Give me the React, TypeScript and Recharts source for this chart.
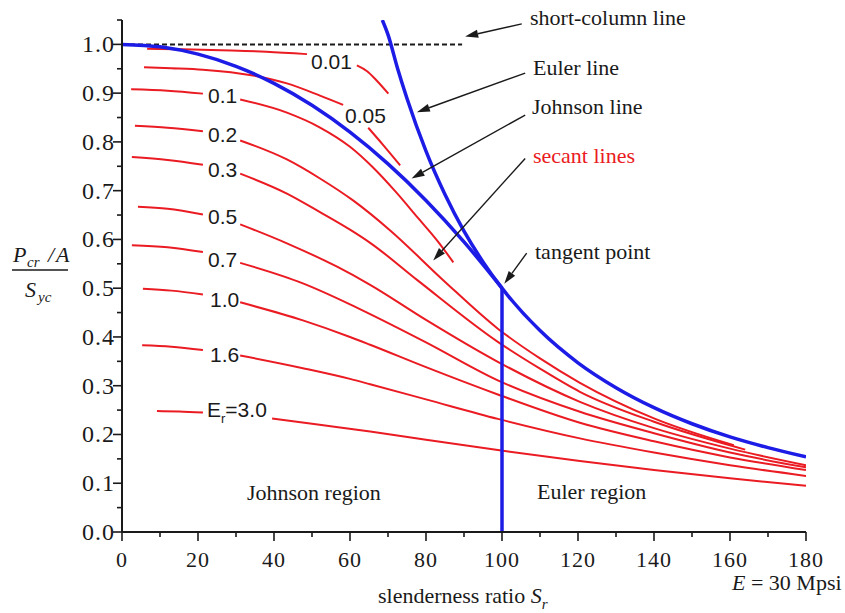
import React from "react";
import { Line, LineChart, ReferenceLine, XAxis, YAxis } from "recharts";

// secant curves as [Sr, (Pcr/A)/Syc]; null = gap where the tag sits
const secant001 = [[6.6, 0.991], [16, 0.99], [26, 0.988], [38, 0.985], [48.7, 0.98], [55, null], [61.8, 0.957], [64.5, 0.945], [67, 0.926], [70.1, 0.899]];
const secant005 = [[5.8, 0.953], [13, 0.951], [21.3, 0.948], [34.5, 0.936], [43.4, 0.92], [52.1, 0.895], [58.2, 0.876], [61.5, null], [64.8, 0.829], [68.8, 0.793], [73.2, 0.752]];
const secant01 = [[2.4, 0.908], [12, 0.905], [21.3, 0.899], [26, null], [31.1, 0.887], [43.4, 0.86], [52, 0.83], [60, 0.79], [66, 0.748], [72, 0.698], [78, 0.643], [83, 0.597], [87.2, 0.553]];
const secant02 = [[3.4, 0.833], [12, 0.829], [21.3, 0.822], [26, null], [31.1, 0.803], [43.4, 0.764], [52.1, 0.725], [60.8, 0.68], [70.5, 0.619], [84.6, 0.516], [98.9, 0.417], [110, 0.356], [120.5, 0.306], [140, 0.233], [161, 0.178]];
const secant03 = [[2.6, 0.769], [12, 0.763], [21.3, 0.753], [26, null], [31.1, 0.735], [43.4, 0.694], [52.1, 0.656], [60, 0.62], [65.3, 0.593], [77.8, 0.516], [98.9, 0.39], [110, 0.335], [120.5, 0.2875], [140, 0.226], [164, 0.169]];
const secant05 = [[4.2, 0.667], [12, 0.663], [21.3, 0.651], [26, null], [31.1, 0.631], [43.4, 0.592], [56.6, 0.544], [65.3, 0.507], [80, 0.435], [98.9, 0.349], [120.5, 0.267], [140, 0.213], [160, 0.171], [180, 0.137]];
const secant07 = [[2.6, 0.588], [12, 0.584], [21.3, 0.574], [26, null], [31.1, 0.552], [47.6, 0.51], [60, 0.467], [65.3, 0.447], [80, 0.389], [98.9, 0.311], [120.5, 0.2465], [140, 0.2025], [160, 0.163], [180, 0.1325]];
const secant10 = [[5.5, 0.499], [13, 0.495], [21.3, 0.487], [26, null], [31.1, 0.471], [47.6, 0.434], [60, 0.4], [65.3, 0.384], [80, 0.338], [98.9, 0.282], [120.5, 0.224], [140, 0.186], [160, 0.153], [180, 0.127]];
const secant16 = [[5.3, 0.383], [13, 0.38], [21.3, 0.373], [26, null], [31.1, 0.362], [47.6, 0.336], [60, 0.314], [65.3, 0.303], [80, 0.272], [98.9, 0.232], [120.5, 0.192], [140, 0.163], [160, 0.137], [180, 0.115]];
const secant30 = [[9.2, 0.248], [15, 0.247], [21.3, 0.245], [30, null], [39.5, 0.233], [52, 0.22], [65.3, 0.206], [80, 0.189], [98.9, 0.168], [120.5, 0.1455], [140, 0.127], [160, 0.11], [180, 0.095]];

const johnsonLine = [[0, 1.0], [10, 0.995], [20, 0.98], [30, 0.955], [40, 0.92], [50, 0.875], [60, 0.82], [70, 0.755], [80, 0.68], [90, 0.595], [100, 0.5]];
const eulerLine = [[68.5, 1.05], [70, 1.02], [72.5, 0.951], [75, 0.889], [80, 0.781], [85, 0.692], [90, 0.617], [95, 0.554], [100, 0.5], [110, 0.413], [120, 0.347], [130, 0.296], [140, 0.255], [150, 0.222], [160, 0.195], [170, 0.173], [180, 0.154]];

const xTicks = [0, 10, 20, 30, 40, 50, 60, 70, 80, 90, 100, 110, 120, 130, 140, 150, 160, 170, 180];
const yTicks = [0, 0.05, 0.1, 0.15, 0.2, 0.25, 0.3, 0.35, 0.4, 0.45, 0.5, 0.55, 0.6, 0.65, 0.7, 0.75, 0.8, 0.85, 0.9, 0.95, 1.0, 1.05];

const secantCurves = [secant001, secant005, secant01, secant02, secant03, secant05, secant07, secant10, secant16, secant30];
const curveTags = ["0.01", "0.05", "0.1", "0.2", "0.3", "0.5", "0.7", "1.0", "1.6"];

// annotation arrows: tail -> tip, in data units
const arrows = [
  { from: [105.2, 1.042], to: [90.3, 1.016] },
  { from: [106.1, 0.941], to: [77.6, 0.861] },
  { from: [106.1, 0.855], to: [76.2, 0.725] },
  { from: [106.1, 0.766], to: [81.9, 0.557] },
  { from: [106.5, 0.572], to: [100.6, 0.509] },
];

const RED = "#ea1b22";
const BLUE = "#1c1ce6";
const INK = "#1a1a1a";
const SERIF = '"Liberation Serif", "Times New Roman", serif';
const SANS = '"Liberation Sans", Arial, sans-serif';

const toRows = (pts: any[]) => pts.map(([x, y]) => ({ x, y }));

function XTick(props: any) {
  const { x, y, payload } = props;
  const major = payload.value % 20 === 0;
  return (
    <g>
      <line x1={x} x2={x} y1={y} y2={y + (major ? 9 : 5)} stroke={INK} strokeWidth={1.6} />
      {major && (
        <text x={x} y={y + 35} textAnchor="middle" fontFamily={SERIF} fontSize={22} letterSpacing={1} fill={INK}>
          {payload.value}
        </text>
      )}
    </g>
  );
}

function YTick(props: any) {
  const { x, y, payload } = props;
  const v = payload.value;
  const major = Math.abs(v * 10 - Math.round(v * 10)) < 1e-6;
  return (
    <g>
      <line x1={x - (major ? 9 : 5)} x2={x} y1={y} y2={y} stroke={INK} strokeWidth={1.6} />
      {major && (
        <text x={x - 7} y={y + 8} textAnchor="end" fontFamily={SERIF} fontSize={24} letterSpacing={1} fill={INK}>
          {v.toFixed(1)}
        </text>
      )}
    </g>
  );
}

function Arrow(props: any) {
  const { x1, y1, x2, y2 } = props;
  const a = Math.atan2(y2 - y1, x2 - x1);
  const len = 13;
  const half = 4;
  const bx = x2 - len * Math.cos(a);
  const by = y2 - len * Math.sin(a);
  const px = -Math.sin(a) * half;
  const py = Math.cos(a) * half;
  return (
    <g>
      <line x1={x1} y1={y1} x2={bx} y2={by} stroke={INK} strokeWidth={1.4} />
      <polygon points={`${x2},${y2} ${bx + px},${by + py} ${bx - px},${by - py}`} fill={INK} />
    </g>
  );
}

const tagPos = [
  [311, 68.5], [345, 122.5], [208, 103], [208, 141.7], [208, 176.7], [208, 224.3], [208, 266.7], [210, 306.7], [210, 361.7],
];

export default function App() {
  return (
    <div style={{ position: "absolute", left: 0, top: 0, width: 845, height: 613, background: "#fff" }}>
      <LineChart width={845} height={613} margin={{ top: 20, right: 39, bottom: 0, left: 0 }}>
        <XAxis
          type="number"
          dataKey="x"
          domain={[0, 180]}
          ticks={xTicks}
          interval={0}
          allowDataOverflow
          height={81}
          tickSize={0}
          tickMargin={0}
          tickLine={false}
          tick={<XTick />}
          axisLine={{ stroke: INK, strokeWidth: 2 }}
        />
        <YAxis
          type="number"
          domain={[0, 1.05]}
          ticks={yTicks}
          interval={0}
          allowDataOverflow
          width={122}
          tickSize={0}
          tickMargin={0}
          tickLine={false}
          tick={<YTick />}
          axisLine={{ stroke: INK, strokeWidth: 2 }}
        />
        {secantCurves.map((c, i) => (
          <Line key={i} data={toRows(c)} dataKey="y" type="monotone" stroke={RED} strokeWidth={2} dot={false} connectNulls={false} isAnimationActive={false} />
        ))}
        <ReferenceLine segment={[{ x: 0, y: 1 }, { x: 89.5, y: 1 }]} stroke={INK} strokeWidth={2} strokeDasharray="5 3" />
        <Line data={toRows(johnsonLine)} dataKey="y" type="monotone" stroke={BLUE} strokeWidth={3.5} dot={false} isAnimationActive={false} />
        <Line data={toRows(eulerLine)} dataKey="y" type="monotone" stroke={BLUE} strokeWidth={3.5} dot={false} isAnimationActive={false} />
        <ReferenceLine segment={[{ x: 100, y: 0 }, { x: 100, y: 0.5 }]} stroke={BLUE} strokeWidth={3.5} />
        {arrows.map((a, i) => (
          <ReferenceLine key={"a" + i} segment={[{ x: a.from[0], y: a.from[1] }, { x: a.to[0], y: a.to[1] }]} shape={<Arrow />} />
        ))}
      </LineChart>

      <svg width={845} height={613} style={{ position: "absolute", left: 0, top: 0, pointerEvents: "none" }}>
        <g fontFamily={SANS} fontSize={21} fill={INK}>
          {curveTags.map((t, i) => (
            <text key={t} x={tagPos[i][0]} y={tagPos[i][1]}>{t}</text>
          ))}
          <text x={207} y={416.7}>
            E<tspan fontSize={13} dy={6}>r</tspan>
            <tspan dy={-6}>=3.0</tspan>
          </text>
        </g>
        <g fontFamily={SERIF} fontSize={22} fill={INK}>
          <text x={530} y={25}>short-column line</text>
          <text x={533} y={75}>Euler line</text>
          <text x={532} y={114}>Johnson line</text>
          <text x={533} y={163} fill={RED}>secant lines</text>
          <text x={535} y={259}>tangent point</text>
          <text x={247} y={500}>Johnson region</text>
          <text x={537} y={499}>Euler region</text>
          <text x={732} y={590}>
            <tspan fontStyle="italic">E</tspan> = 30 Mpsi
          </text>
          <text x={378} y={603}>
            slenderness ratio <tspan fontStyle="italic">S</tspan>
            <tspan fontStyle="italic" fontSize={15} dy={6}>r</tspan>
          </text>
          <text x={13} y={262} fontStyle="italic">P</text>
          <text x={27} y={267} fontStyle="italic" fontSize={15}>cr</text>
          <text x={48} y={262} fontStyle="italic">/</text>
          <text x={56} y={262} fontStyle="italic">A</text>
          <line x1={12} x2={68} y1={270} y2={270} stroke={INK} strokeWidth={1.4} />
          <text x={25} y={297} fontStyle="italic">S</text>
          <text x={38} y={302} fontStyle="italic" fontSize={15}>yc</text>
        </g>
      </svg>
    </div>
  );
}
